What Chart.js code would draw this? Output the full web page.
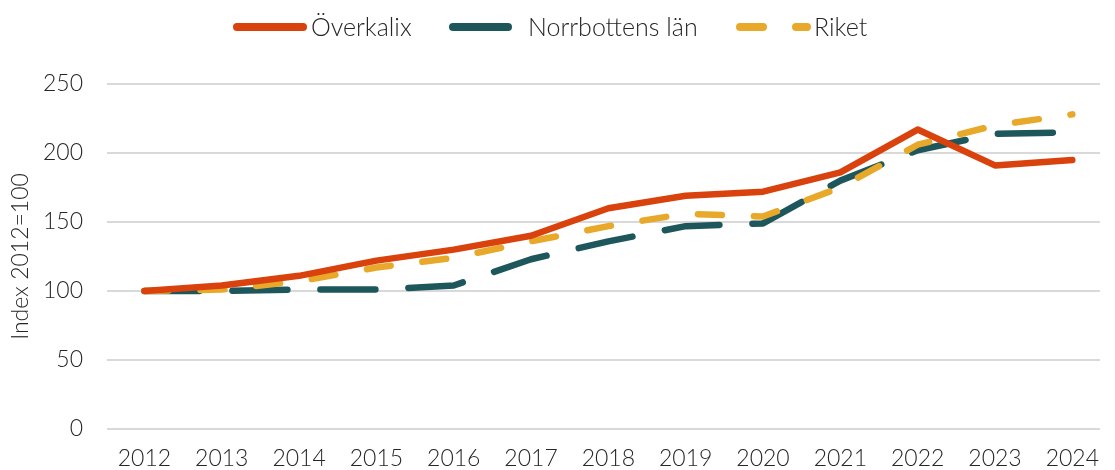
<!DOCTYPE html>
<html>
<head>
<meta charset="utf-8">
<script src="https://cdn.jsdelivr.net/npm/chart.js@4"></script>
<style>
  html, body { margin: 0; padding: 0; background: #fff; }
  #wrap { width: 1115px; height: 470px; }
</style>
</head>
<body>
<div id="wrap"><canvas id="chart" width="1115" height="470"></canvas></div>
<script>
// Data
const years = ['2012', '2013', '2014', '2015', '2016', '2017', '2018', '2019', '2020', '2021', '2022', '2023', '2024'];
const overkalix = [100, 104, 111, 122, 130, 140, 160, 169, 172, 186, 217, 191, 195];
const norrbotten = [100, 100, 101, 101, 104, 123, 136, 147, 149, 180, 202, 214, 215];
const riket = [100, 101, 107, 117, 124, 136, 147, 156, 154, 175, 206, 220, 228];
const yTicks = [0, 50, 100, 150, 200, 250];

const FONT = 'Lato, "Open Sans", sans-serif';
const TEXT = '#262626';

function points(vals) {
    return vals.map((v, i) => ({ x: Number(years[i]), y: v }));
}

// Own legend, drawn as lines like the original
const lineLegend = {
    id: 'lineLegend',
    afterDraw(chart) {
        const ctx = chart.ctx;
        const spots = [
            { x1: 237, x2: 303, tx: 311 },
            { x1: 453, x2: 508, tx: 528 },
            { x1: 740, x2: 807, tx: 814 }
        ];
        const y = 27;
        ctx.save();
        chart.data.datasets.forEach((ds, i) => {
            const s = spots[i];
            ctx.beginPath();
            ctx.lineWidth = 8;
            ctx.lineCap = 'round';
            ctx.strokeStyle = ds.borderColor;
            ctx.setLineDash(ds.legendDash || []);
            ctx.moveTo(s.x1, y);
            ctx.lineTo(s.x2, y);
            ctx.stroke();
            ctx.setLineDash([]);
            ctx.fillStyle = TEXT;
            ctx.font = '300 25px ' + FONT;
            ctx.textBaseline = 'middle';
            ctx.textAlign = 'left';
            ctx.fillText(ds.label, s.tx, y + 1);
        });
        ctx.restore();
    }
};

const common = {
    fill: false,
    tension: 0,
    borderWidth: 6.5,
    borderCapStyle: 'round',
    borderJoinStyle: 'round',
    pointRadius: 0,
    pointHoverRadius: 0
};

new Chart(document.getElementById('chart'), {
    type: 'line',
    data: {
        datasets: [
            Object.assign({ label: 'Överkalix', data: points(overkalix), borderColor: '#d9410d', order: 1 }, common),
            Object.assign({ label: 'Norrbottens län', data: points(norrbotten), borderColor: '#1e575b', borderDash: [55, 33], order: 3 }, common),
            Object.assign({ label: 'Riket', data: points(riket), borderColor: '#e8a92a', borderDash: [24, 32], legendDash: [23, 33], order: 2 }, common)
        ]
    },
    options: {
        responsive: false,
        animation: false,
        layout: { padding: { top: 84, left: 0, right: 0, bottom: 0 } },
        plugins: {
            legend: { display: false },
            tooltip: { enabled: false }
        },
        scales: {
            x: {
                type: 'linear',
                min: 2011.516,
                max: 2024.357,
                afterBuildTicks(scale) {
                    scale.ticks = years.map(v => ({ value: Number(v) }));
                },
                afterFit(scale) { scale.height = 41; },
                grid: { display: false, drawTicks: false },
                border: { display: false },
                ticks: {
                    padding: 16,
                    color: TEXT,
                    font: { family: FONT, size: 23, weight: 300 },
                    maxRotation: 0,
                    autoSkip: false,
                    callback: (v) => String(v)
                }
            },
            y: {
                min: 0,
                max: 250,
                afterBuildTicks(scale) {
                    scale.ticks = yTicks.map(v => ({ value: v }));
                },
                afterFit(scale) { scale.width = 107; },
                grid: { color: '#d9d9d9', lineWidth: 2, drawTicks: false },
                border: { display: false },
                ticks: {
                    padding: 24,
                    color: TEXT,
                    font: { family: FONT, size: 23, weight: 300 }
                },
                title: {
                    display: true,
                    text: 'Index 2012=100',
                    color: TEXT,
                    font: { family: FONT, size: 23, weight: 300 },
                    padding: { top: 7, bottom: 0 }
                }
            }
        }
    },
    plugins: [lineLegend]
});
</script>
</body>
</html>
